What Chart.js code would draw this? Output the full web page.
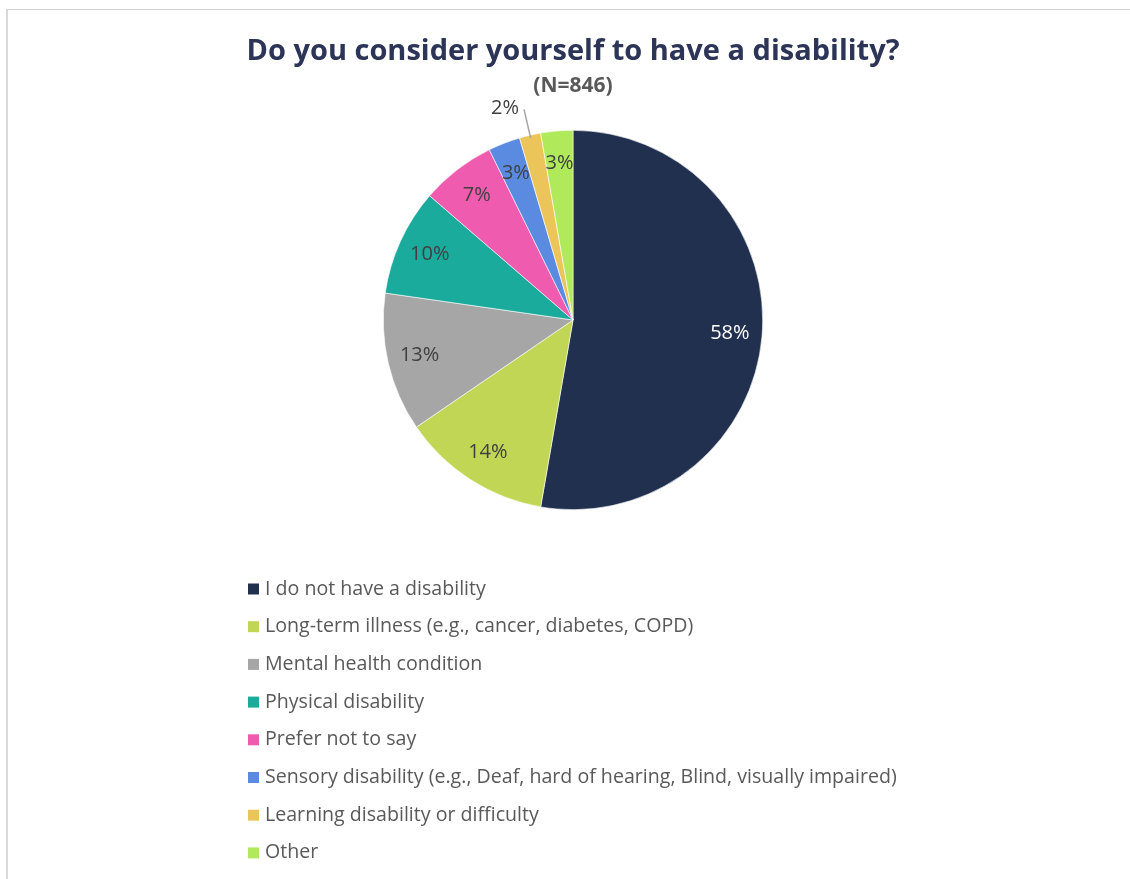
<!DOCTYPE html>
<html>
<head>
<meta charset="utf-8">
<script src="https://cdn.jsdelivr.net/npm/chart.js@4.4.1/dist/chart.umd.min.js"></script>
<style>
  html, body { margin: 0; padding: 0; background: #ffffff; overflow: hidden; }
  #frame {
    position: absolute; left: 6px; top: 9px; width: 1200px; height: 1000px;
    border-left: 2px solid #d9d9d9; border-top: 1px solid #d4d4d4;
  }
  #chart { position: absolute; left: 0; top: 0; }
</style>
</head>
<body>
<div id="frame"></div>
<canvas id="chart" width="1130" height="879"></canvas>
<script>
// Survey question and sample size
const chartTitle = 'Do you consider yourself to have a disability?';
const chartSubtitle = '(N=846)';

// Response categories (multiple answers allowed, so shares exceed 100%)
const categories = [
  'I do not have a disability',
  'Long-term illness (e.g., cancer, diabetes, COPD)',
  'Mental health condition',
  'Physical disability',
  'Prefer not to say',
  'Sensory disability (e.g., Deaf, hard of hearing, Blind, visually impaired)',
  'Learning disability or difficulty',
  'Other'
];

// Share of respondents choosing each answer, in percent
const percentValues = [58, 14, 13, 10, 7, 3, 2, 3];

const sliceColors = ['#22304f', '#c1d654', '#a6a6a6', '#1aab9d', '#ee5baf', '#5b8be0', '#ecc55a', '#b0ea5a'];
const labelColors = ['#ffffff', '#404040', '#404040', '#404040', '#404040', '#404040', '#404040', '#404040'];

const FONT = '"Open Sans", "Liberation Sans", sans-serif';

// Title, subtitle, slice value labels and a vertical legend
const decorations = {
  id: 'decorations',
  afterDatasetsDraw(chart) {
    const ctx = chart.ctx;
    const meta = chart.getDatasetMeta(0);
    ctx.save();
    meta.data.forEach((arc, i) => {
      const p = arc.getProps(['x', 'y', 'startAngle', 'endAngle', 'outerRadius'], true);
      const mid = (p.startAngle + p.endAngle) / 2;
      const text = percentValues[i] + '%';
      ctx.font = '20px ' + FONT;
      ctx.fillStyle = labelColors[i];
      if (percentValues[i] < 3) {
        // narrow slice: label placed outside with a leader line
        const r0 = p.outerRadius * 0.985, r1 = p.outerRadius * 1.14;
        const x0 = p.x + Math.cos(mid) * r0, y0 = p.y + Math.sin(mid) * r0;
        const x1 = p.x + Math.cos(mid) * r1, y1 = p.y + Math.sin(mid) * r1;
        ctx.strokeStyle = '#a6a6a6';
        ctx.lineWidth = 1.5;
        ctx.beginPath(); ctx.moveTo(x0, y0); ctx.lineTo(x1, y1); ctx.stroke();
        ctx.textAlign = 'right';
        ctx.textBaseline = 'middle';
        ctx.fillText(text, x1 - 5, y1 - 1);
      } else {
        const r = p.outerRadius * 0.83;
        ctx.textAlign = 'center';
        ctx.textBaseline = 'middle';
        ctx.fillText(text, p.x + Math.cos(mid) * r, p.y + Math.sin(mid) * r);
      }
    });
    ctx.restore();
  },
  afterDraw(chart) {
    const ctx = chart.ctx;
    const meta = chart.getDatasetMeta(0);
    const cx = meta.data[0].x;
    ctx.save();
    ctx.textAlign = 'center';
    ctx.textBaseline = 'middle';
    ctx.fillStyle = '#2c3558';
    ctx.font = 'bold 29px ' + FONT;
    ctx.fillText(chartTitle, cx, 52);
    ctx.fillStyle = '#595959';
    ctx.font = 'bold 21px ' + FONT;
    ctx.fillText(chartSubtitle, cx, 86);

    // legend
    const lx = 248, ly = 589, step = 37.7, box = 11;
    ctx.textAlign = 'left';
    ctx.font = '19.6px ' + FONT;
    categories.forEach((name, i) => {
      const y = ly + i * step;
      ctx.fillStyle = sliceColors[i];
      ctx.fillRect(lx, y - box / 2, box, box);
      ctx.fillStyle = '#595959';
      ctx.fillText(name, lx + 17, y);
    });
    ctx.restore();
  }
};

new Chart(document.getElementById('chart'), {
  type: 'pie',
  data: {
    labels: categories,
    datasets: [{
      data: percentValues,
      backgroundColor: sliceColors,
      borderColor: '#ffffff',
      borderWidth: 0.6
    }]
  },
  options: {
    responsive: false,
    animation: false,
    layout: { padding: { left: 383, right: 367, top: 130, bottom: 369 } },
    plugins: {
      legend: { display: false },
      title: { display: false },
      tooltip: { enabled: false }
    }
  },
  plugins: [decorations]
});
</script>
</body>
</html>
